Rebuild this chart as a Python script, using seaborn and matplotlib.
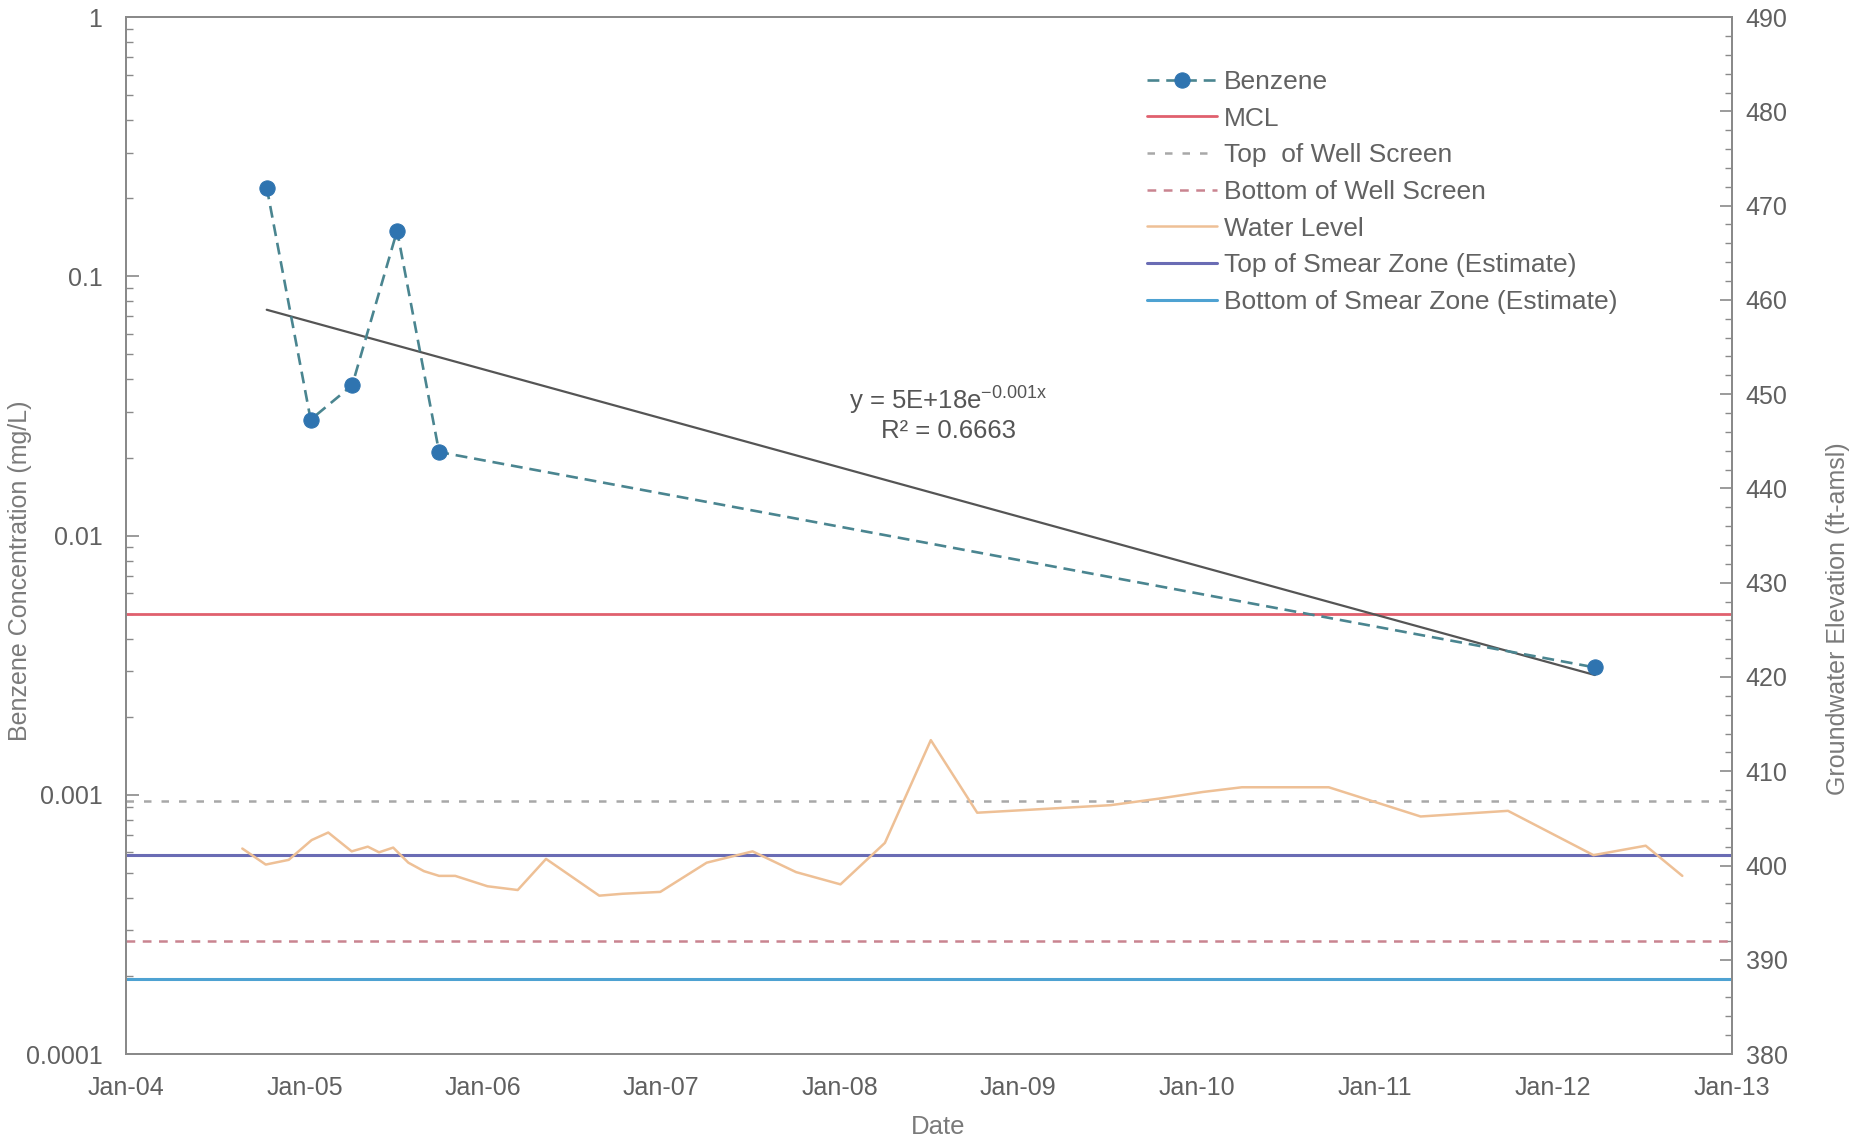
import numpy as np
import pandas as pd
import matplotlib
matplotlib.use("Agg")
import matplotlib.pyplot as plt
import matplotlib.dates as mdates
from matplotlib.ticker import FuncFormatter, MultipleLocator, LogLocator, NullFormatter
import seaborn as sns

# ---- data -------------------------------------------------------------
benzene_dates = pd.to_datetime([
    "2004-10-15", "2005-01-13", "2005-04-08", "2005-07-09", "2005-10-03", "2012-03-27",
])
benzene_mgL = [0.22, 0.028, 0.038, 0.15, 0.021, 0.0031]

mcl_mgL = 0.005

water_dates = pd.to_datetime([
    "2004-08-26", "2004-10-13", "2004-11-29", "2005-01-15", "2005-02-18", "2005-04-07",
    "2005-05-10", "2005-06-02", "2005-07-01", "2005-08-01", "2005-09-02", "2005-10-03",
    "2005-11-05", "2006-01-10", "2006-03-13", "2006-05-10", "2006-08-27", "2006-10-13",
    "2006-12-30", "2007-04-04", "2007-07-07", "2007-10-04", "2008-01-03", "2008-04-03",
    "2008-07-06", "2008-10-09", "2009-07-09", "2009-10-17", "2010-01-14", "2010-04-04",
    "2010-09-29", "2011-04-05", "2011-10-01", "2012-03-24", "2012-07-09", "2012-09-22",
])
water_elev = [
    401.8, 400.1, 400.6, 402.7, 403.5, 401.5,
    402.0, 401.4, 401.9, 400.3, 399.4, 398.9,
    398.9, 397.8, 397.4, 400.7, 396.8, 397.0,
    397.2, 400.3, 401.5, 399.3, 398.0, 402.4,
    413.3, 405.6, 406.4, 407.1, 407.8, 408.3,
    408.3, 405.2, 405.8, 401.1, 402.1, 398.9,
]

top_well_screen = 406.8
bottom_well_screen = 392.0
top_smear_zone = 401.1
bottom_smear_zone = 388.0

x_start, x_end = pd.Timestamp("2004-01-01"), pd.Timestamp("2013-01-01")
conc_ticks = [0.0001, 0.001, 0.01, 0.1, 1]
elev_ticks = list(range(380, 491, 10))

equation_text = r"y = 5E+18e$^{\mathrm{-0.001x}}$"
r2_text = "R² = 0.6663"

# ---- style ------------------------------------------------------------
sns.set_theme(style="white")
plt.rcParams["font.family"] = ["Liberation Sans", "DejaVu Sans"]
plt.rcParams["mathtext.fontset"] = "custom"
plt.rcParams["mathtext.rm"] = "Liberation Sans"
plt.rcParams["mathtext.it"] = "Liberation Sans"

tick_col = "#606060"
label_col = "#7a7a7a"
spine_col = "#8a8a8a"

fig = plt.figure(figsize=(18.68, 11.40), dpi=100)
ax = fig.add_axes([0.0675, 0.0754, 0.8595, 0.9096])
ax2 = ax.twinx()

# ---- concentration axis (left) -----------------------------------------
ax.set_yscale("log")
ax.set_ylim(1e-4, 1)
ax.set_xlim(x_start, x_end)

ax.axhline(mcl_mgL, color="#e0606e", lw=2.0, zorder=2)
mcl_handle = ax.lines[-1]

# exponential trend fitted to the benzene results
days = mdates.date2num(benzene_dates)
coef = np.polyfit(days, np.log(benzene_mgL), 1)
trend_x = [benzene_dates[0], benzene_dates[-1]]
trend_y = np.exp(np.polyval(coef, days[[0, -1]]))
sns.lineplot(x=trend_x, y=trend_y, ax=ax, color="#555555", lw=1.6, zorder=3)

sns.lineplot(x=benzene_dates, y=benzene_mgL, ax=ax, color="#4a8590",
             linestyle=(0, (4.5, 2.6)), lw=1.9, marker="o", markersize=11,
             markerfacecolor="#2f74b0", markeredgecolor="#2f74b0", zorder=4)
benzene_handle = ax.lines[-1]

ax.text(0.512, 0.630, equation_text, transform=ax.transAxes, ha="center",
        va="center", fontsize=18.5, color="#555555")
ax.text(0.512, 0.601, r2_text, transform=ax.transAxes, ha="center",
        va="center", fontsize=18.5, color="#555555")

ax.yaxis.set_minor_locator(LogLocator(base=10, subs=np.arange(2, 10), numticks=20))
ax.yaxis.set_minor_formatter(NullFormatter())
ax.set_yticks(conc_ticks)
ax.yaxis.set_major_formatter(FuncFormatter(lambda v, p: f"{v:g}"))

ax.set_xticks(list(pd.date_range(x_start, x_end, freq="YS")))
ax.xaxis.set_major_formatter(mdates.DateFormatter("%b-%y"))

ax.tick_params(axis="x", which="major", direction="in", length=9, width=1.2,
               color=spine_col, labelcolor=tick_col, labelsize=18, pad=16)
ax.tick_params(axis="y", which="major", direction="in", length=9, width=1.2,
               color=spine_col, labelcolor=tick_col, labelsize=18, pad=17)
ax.tick_params(axis="y", which="minor", direction="in", length=5, width=1.0,
               color=spine_col)
ax.set_xlabel("Date", fontsize=18.5, color=label_col)
ax.set_ylabel("Benzene Concentration (mg/L)", fontsize=18, color=label_col)
ax.xaxis.set_label_coords(0.506, -0.0586)
ax.yaxis.set_label_coords(-0.0586, 0.466)

# ---- elevation axis (right) --------------------------------------------
ax2.set_ylim(380, 490)
ax2.axhline(top_well_screen, color="#a8a8a8", lw=1.8, linestyle=(0, (3, 4)))
tws_handle = ax2.lines[-1]
ax2.axhline(bottom_well_screen, color="#c98490", lw=1.8, linestyle=(0, (3.5, 3)))
bws_handle = ax2.lines[-1]
ax2.axhline(top_smear_zone, color="#6a6cb4", lw=2.2)
tsz_handle = ax2.lines[-1]
ax2.axhline(bottom_smear_zone, color="#4ea2d2", lw=2.2)
bsz_handle = ax2.lines[-1]

sns.lineplot(x=water_dates, y=water_elev, ax=ax2, color="#eec096", lw=1.8)
wl_handle = ax2.lines[-1]

ax2.set_yticks(elev_ticks)
ax2.yaxis.set_minor_locator(MultipleLocator(2))
ax2.tick_params(axis="y", which="major", direction="in", length=9, width=1.2,
                color=spine_col, labelcolor=tick_col, labelsize=18, pad=10)
ax2.tick_params(axis="y", which="minor", direction="in", length=5, width=1.0,
                color=spine_col)
ax2.set_ylabel("Groundwater Elevation (ft-amsl)", fontsize=18, color=label_col)
ax2.yaxis.set_label_coords(1.0586, 0.42)
ax2.set_xlim(x_start, x_end)

for a in (ax, ax2):
    for s in a.spines.values():
        s.set_color(spine_col)
        s.set_linewidth(1.4)
        s.set_visible(True)

handles = [benzene_handle, mcl_handle, tws_handle, bws_handle, wl_handle, tsz_handle, bsz_handle]
labels = ["Benzene", "MCL", "Top  of Well Screen", "Bottom of Well Screen",
          "Water Level", "Top of Smear Zone (Estimate)", "Bottom of Smear Zone (Estimate)"]
leg = ax2.legend(handles, labels, loc="upper left", bbox_to_anchor=(0.636, 0.949),
                 frameon=False, fontsize=19, handlelength=2.66, handletextpad=0.25,
                 labelspacing=0.48, borderpad=0, borderaxespad=0)
for t in leg.get_texts():
    t.set_color("#626262")

fig.savefig("out.png", dpi=100, facecolor="white")
